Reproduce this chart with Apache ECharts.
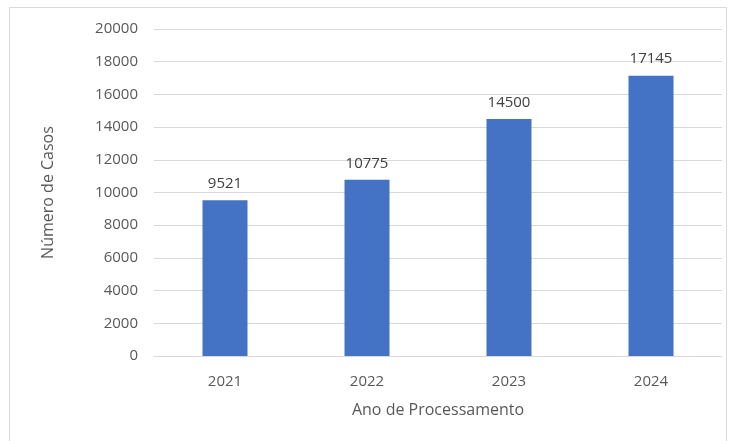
<!DOCTYPE html>
<html>
<head>
<meta charset="utf-8">
<script src="https://cdn.jsdelivr.net/npm/echarts@6/dist/echarts.min.js"></script>
<style>html,body{margin:0;padding:0;background:#fff;}</style>
</head>
<body>
<div id="main" style="width:732px;height:441px;"></div>
<script>
var anos = ['2021', '2022', '2023', '2024'];
var casos = [9521, 10775, 14500, 17145];

var chart = echarts.init(document.getElementById('main'));
var fonte = 'Open Sans';
chart.setOption({
  animation: false,
  graphic: [{
    type: 'rect',
    shape: { x: 9.5, y: 7.5, width: 717, height: 440 },
    style: { fill: 'none', stroke: '#d9d9d9', lineWidth: 1 }
  }],
  grid: { left: 154, right: 10, top: 29, bottom: 85 },
  xAxis: {
    type: 'category',
    data: anos,
    name: 'Ano de Processamento',
    nameLocation: 'middle',
    nameGap: 46,
    nameTextStyle: { color: '#595959', fontSize: 16, fontFamily: fonte },
    axisLine: { lineStyle: { color: '#d9d9d9' } },
    axisTick: { show: false },
    axisLabel: { color: '#595959', fontSize: 15, fontFamily: fonte, margin: 18 }
  },
  yAxis: {
    type: 'value',
    min: 0,
    max: 20000,
    interval: 2000,
    name: 'Número de Casos',
    nameLocation: 'middle',
    nameGap: 98,
    nameTextStyle: { color: '#595959', fontSize: 16, fontFamily: fonte },
    axisLine: { show: false },
    axisTick: { show: false },
    axisLabel: {
      color: '#595959', fontSize: 15, fontFamily: fonte, margin: 16,
      formatter: function (v) { return String(v); }
    },
    splitLine: { lineStyle: { color: '#d9d9d9' } }
  },
  series: [{
    type: 'bar',
    data: casos,
    barWidth: 45,
    itemStyle: { color: '#4472c4' },
    label: {
      show: true,
      position: 'top',
      distance: 9,
      color: '#404040',
      fontSize: 15,
      fontFamily: fonte
    }
  }]
});
</script>
</body>
</html>
